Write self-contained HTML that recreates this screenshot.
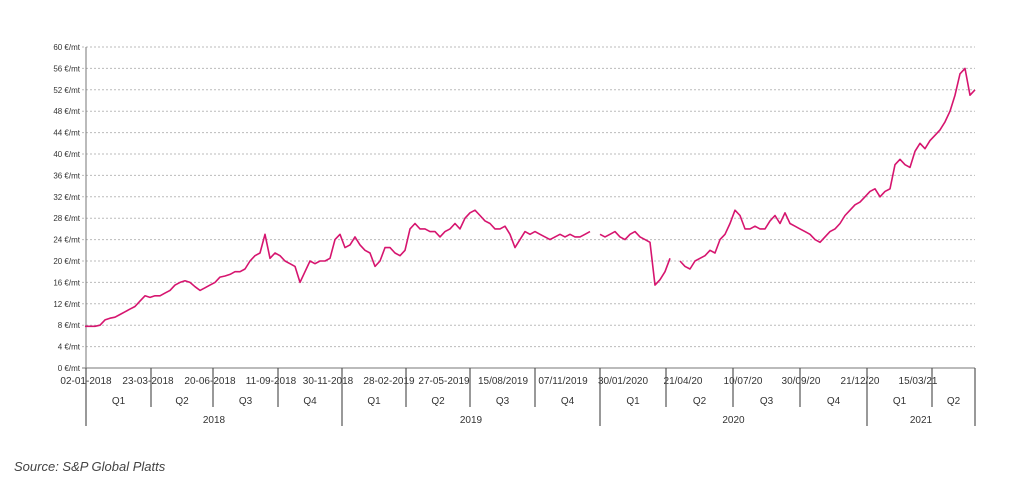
<!DOCTYPE html>
<html><head><meta charset="utf-8">
<style>
body{margin:0;background:#fff;width:1024px;height:490px;overflow:hidden;font-family:"Liberation Sans",sans-serif;}
svg{position:absolute;left:0;top:0}
.src{position:absolute;left:14px;top:459px;font-size:13px;font-style:italic;color:#444;}
</style></head>
<body>
<svg id="chart" width="1024" height="490" xmlns="http://www.w3.org/2000/svg"></svg>
<div class="src">Source: S&amp;P Global Platts</div>
<script>
const yTicks=[0,4,8,12,16,20,24,28,32,36,40,44,48,52,56,60];
const dateLabels=["02-01-2018","23-03-2018","20-06-2018","11-09-2018","30-11-2018","28-02-2019","27-05-2019","15/08/2019","07/11/2019","30/01/2020","21/04/20","10/07/20","30/09/20","21/12/20","15/03/21"];
const quarters=["Q1","Q2","Q3","Q4","Q1","Q2","Q3","Q4","Q1","Q2","Q3","Q4","Q1","Q2"];
const years=["2018","2019","2020","2021"];
const prices=[7.8,7.8,7.8,8,9,9.3,9.5,10,10.5,11,11.5,12.5,13.5,13.2,13.5,13.5,14,14.5,15.5,16,16.3,16,15.2,14.5,15,15.5,16,17,17.2,17.5,18,18,18.5,20,21,21.5,25,20.5,21.5,21,20,19.5,19,16,18,20,19.5,20,20,20.5,24,25,22.5,23,24.5,23,22,21.5,19,20,22.5,22.5,21.5,21,22,26,27,26,26,25.5,25.5,24.5,25.5,26,27,26,28,29,29.5,28.5,27.5,27,26,26,26.5,25,22.5,24,25.5,25,25.5,25,24.5,24,24.5,25,24.5,25,24.5,24.5,25,25.5,null,25,24.5,25,25.5,24.5,24,25,25.5,24.5,24,23.5,15.5,16.5,18,20.5,null,20,19,18.5,20,20.5,21,22,21.5,24,25,27,29.5,28.5,26,26,26.5,26,26,27.5,28.5,27,29,27,26.5,26,25.5,25,24,23.5,24.5,25.5,26,27,28.5,29.5,30.5,31,32,33,33.5,32,33,33.5,38,39,38,37.5,40.5,42,41,42.5,43.5,44.5,46,48,51,55,56,51,52];

const svg=document.getElementById('chart');
const NS='http://www.w3.org/2000/svg';
const X0=86,X1=975,Y0=368,Y1=47,YMAX=60;
const yS=v=>Y0-(v/YMAX)*(Y0-Y1);
const xS=i=>85+i*(X1-85)/(prices.length-1);
function mk(t,a){const e=document.createElementNS(NS,t);for(const k in a)e.setAttribute(k,a[k]);svg.appendChild(e);return e;}

yTicks.forEach(v=>{
  const g=mk('line',{x1:X0-4,x2:X1,y1:yS(v),y2:yS(v),stroke:v===0?'#777':'#bbb','stroke-width':1,'stroke-dasharray':v===0?'':'2,2'});
  
  
  const t=mk('text',{x:X0-6,y:yS(v)+3,'text-anchor':'end','font-size':8,fill:'#333'});
  t.textContent=v+' €/mt';
  
  
});
const ax=mk('line',{x1:X0,x2:X0,y1:Y1,y2:Y0,stroke:'#777'});



const dateX=[86,148,210,271,328,389,444,503,563,623,683,743,801,860,918];
dateLabels.forEach((d,i)=>{
  const t=mk('text',{x:dateX[i],y:384,'text-anchor':'middle','font-size':10,fill:'#333'});
  t.textContent=d;
  
  
});
const qb=[86,151,213,278,342,406,470,535,600,666,733,800,867,932,975];
const yearIdx=[0,4,8,12,14];
qb.forEach((x,i)=>{
  const isY=yearIdx.includes(i);
  const l=mk('line',{x1:x,x2:x,y1:368,y2:isY?426:407,stroke:'#555','stroke-width':1.2});
  
  
});
quarters.forEach((q,i)=>{
  const t=mk('text',{x:(qb[i]+qb[i+1])/2,y:404,'text-anchor':'middle','font-size':10,fill:'#333'});
  t.textContent=q;
  
  
});
years.forEach((y,i)=>{
  const t=mk('text',{x:(qb[yearIdx[i]]+qb[yearIdx[i+1]])/2,y:423,'text-anchor':'middle','font-size':10,fill:'#333'});
  t.textContent=y;
  
  
});

let d='',pen=false;
prices.forEach((v,i)=>{
  if(v===null){pen=false;return;}
  d+=(pen?'L':'M')+xS(i).toFixed(1)+','+yS(v).toFixed(1);
  pen=true;
});
const p=mk('path',{d:d,fill:'none',stroke:'#d6156f','stroke-width':1.6,'stroke-linejoin':'round'});


</script>
</body></html>
